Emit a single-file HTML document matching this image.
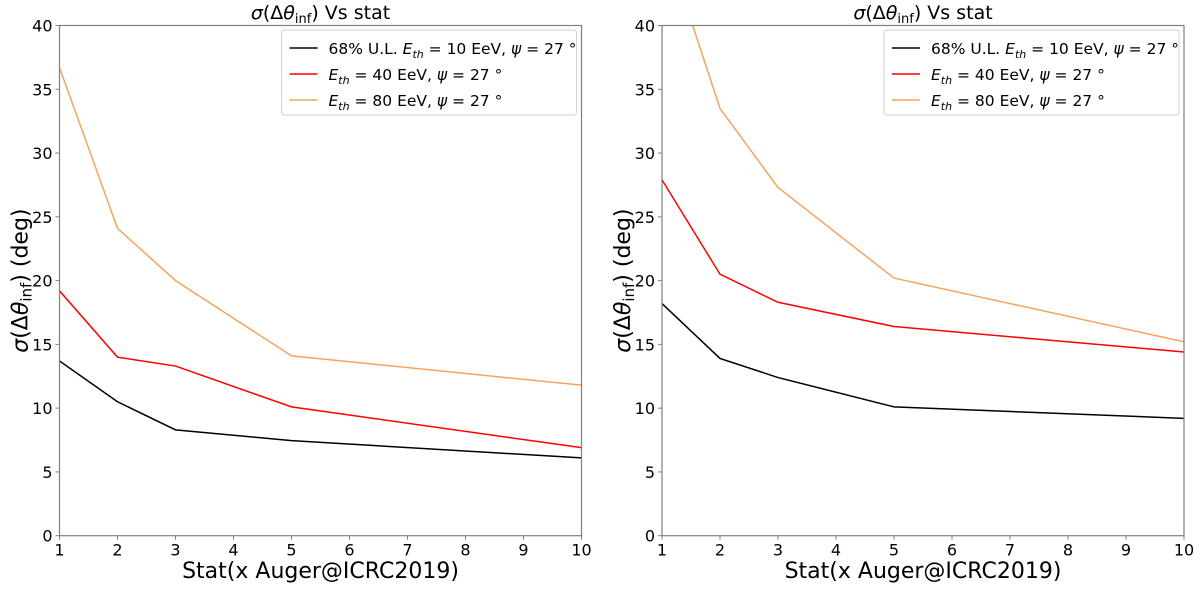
<!DOCTYPE html>
<html><head><meta charset="utf-8"><style>
body{margin:0;background:#fff;font-family:"Liberation Sans","DejaVu Sans",sans-serif;}
svg text{font-family:"DejaVu Sans","Liberation Sans",sans-serif;fill:#000;}
</style></head><body>
<svg id="chart" width="1200" height="586" xmlns="http://www.w3.org/2000/svg"></svg>
<script>
const categories=[1,2,3,5,10];
const leftBlack=[13.7,10.5,8.3,7.45,6.1];
const leftRed=[19.2,14.0,13.3,10.1,6.9];
const leftOrange=[36.7,24.1,20.0,14.1,11.8];
const rightBlack=[18.2,13.9,12.4,10.1,9.2];
const rightRed=[27.9,20.5,18.3,16.4,14.4];
const rightOrange=[47.3,33.5,27.3,20.2,15.2];
const xTicks=[1,2,3,4,5,6,7,8,9,10];
const yTicks=[0,5,10,15,20,25,30,35,40];
const legendLabels=['68% U.L. <tspan font-style="italic">E</tspan><tspan font-style="italic" font-size="11" dy="4">th</tspan><tspan dy="-4"> = 10 EeV, </tspan><tspan font-style="italic">ψ</tspan> = 27 °',
'<tspan font-style="italic">E</tspan><tspan font-style="italic" font-size="11" dy="4">th</tspan><tspan dy="-4"> = 40 EeV, </tspan><tspan font-style="italic">ψ</tspan> = 27 °',
'<tspan font-style="italic">E</tspan><tspan font-style="italic" font-size="11" dy="4">th</tspan><tspan dy="-4"> = 80 EeV, </tspan><tspan font-style="italic">ψ</tspan> = 27 °'];
const colors=['#000000','#ff0000','#f4a460'];
const svg=document.getElementById('chart');
const NS='http://www.w3.org/2000/svg';
function mk(tag,attrs,parent){const e=document.createElementNS(NS,tag);for(const k in attrs)e.setAttribute(k,attrs[k]);(parent||svg).appendChild(e);return e;}
function panel(x0,x1,series,idx){
  const y0=535.7,y1=25.5;
  const g=mk('g',{});
  
  
  const sx=v=>x0+(v-1)/9*(x1-x0);
  const sy=v=>y0-(v/40)*(y0-y1);
  const cid='clip'+idx;
  const cp=mk('clipPath',{id:cid},g);mk('rect',{x:x0,y:y1,width:x1-x0,height:y0-y1},cp);
  series.forEach((s,i)=>{
    const pts=categories.map((c,j)=>sx(c).toFixed(2)+','+sy(s[j]).toFixed(2)).join(' ');
    const l=mk('polyline',{points:pts,fill:'none',stroke:colors[i],'stroke-width':1.5,'clip-path':'url(#'+cid+')'},g);
    
    
  });
  mk('rect',{x:x0,y:y1,width:x1-x0,height:y0-y1,fill:'none',stroke:'#808080','stroke-width':1.2},g);
  xTicks.forEach(t=>{
    mk('line',{x1:sx(t),x2:sx(t),y1:y0,y2:y0+4,stroke:'#808080'},g);
    const tx=mk('text',{x:sx(t),y:y0+20,'font-size':16,'text-anchor':'middle'},g);tx.textContent=t;
    
    
  });
  yTicks.forEach(t=>{
    mk('line',{x1:x0-4,x2:x0,y1:sy(t),y2:sy(t),stroke:'#808080'},g);
    const tx=mk('text',{x:x0-7,y:sy(t)+6,'font-size':16,'text-anchor':'end'},g);tx.textContent=t;
    
    
  });
  const mid=(x0+x1)/2;
  const ti=mk('text',{x:mid,y:19,'font-size':19,'text-anchor':'middle'},g);
  ti.innerHTML='<tspan font-style="italic">σ</tspan>(Δ<tspan font-style="italic">θ</tspan><tspan font-size="13" dy="4">inf</tspan><tspan dy="-4">) Vs stat</tspan>';
  
  
  const xl=mk('text',{x:mid,y:578,'font-size':22,'text-anchor':'middle'},g);xl.textContent='Stat(x Auger@ICRC2019)';
  
  
  const yl=mk('text',{x:0,y:0,'font-size':22,'text-anchor':'middle',transform:'translate('+(x0-32)+','+((y0+y1)/2)+') rotate(-90)'},g);
  yl.innerHTML='<tspan font-style="italic">σ</tspan>(Δ<tspan font-style="italic">θ</tspan><tspan font-size="15" dy="4">inf</tspan><tspan dy="-4">) (deg)</tspan>';
  
  
  const lx=x1-300,ly=30;
  const lg=mk('g',{},g);
  
  
  mk('rect',{x:lx,y:ly,width:295,height:85,rx:3,fill:'#fff',stroke:'#d0d0d0'},lg);
  legendLabels.forEach((lab,i)=>{
    const yy=ly+18+i*26;
    mk('line',{x1:lx+8,x2:lx+36,y1:yy,y2:yy,stroke:colors[i],'stroke-width':1.5},lg);
    const t=mk('text',{x:lx+47,y:yy+6,'font-size':15.5},lg);t.innerHTML=lab;
    
    
  });
}
panel(59.5,581.5,[leftBlack,leftRed,leftOrange],'left');
panel(662,1184,[rightBlack,rightRed,rightOrange],'right');
</script>
</body></html>
